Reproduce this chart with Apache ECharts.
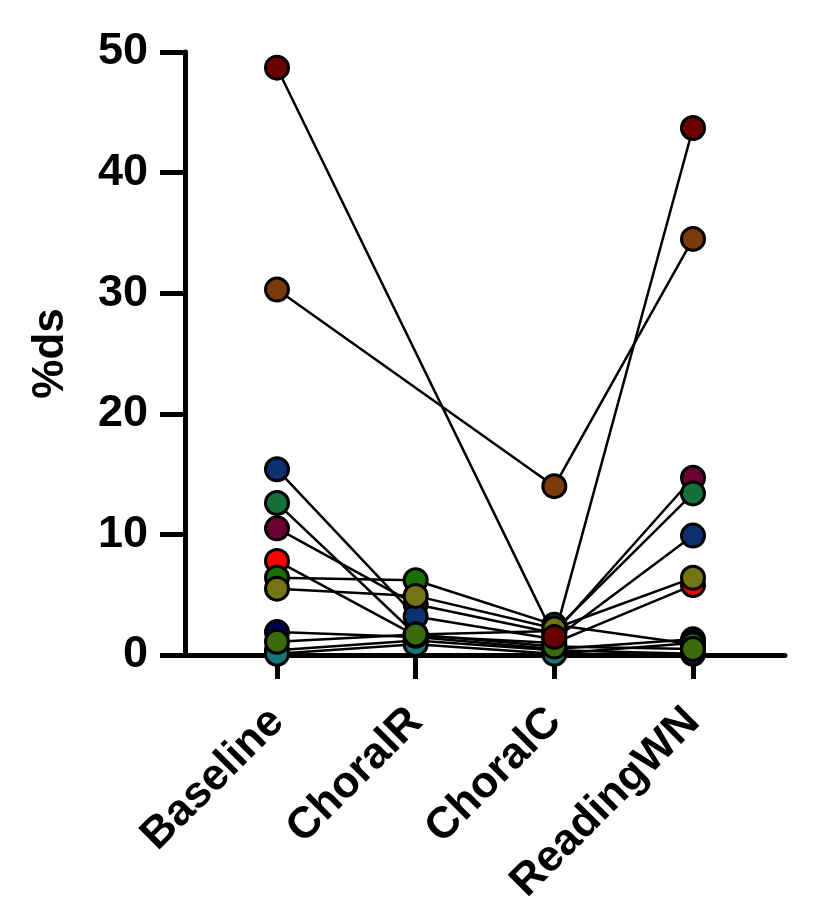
<!DOCTYPE html>
<html>
<head>
<meta charset="utf-8">
<script src="https://cdn.jsdelivr.net/npm/echarts@6/dist/echarts.min.js"></script>
<style>
  html, body { margin: 0; padding: 0; background: #fff; }
  #chart { width: 817px; height: 913px; }
</style>
</head>
<body>
<div id="chart"></div>
<script>
// categories along the x axis
var categories = ["Baseline", "ChoralR", "ChoralC", "ReadingWN"];

var sDarkRed   = [48.7, null, 1.5, 43.7];
var sBrown     = [30.3, null, 14.0, 34.5];
var sPurple    = [0.4, 1.2, 0.4, 0.1];
var sNavy      = [1.9, 1.5, 0.5, 1.3];
var sTeal      = [0.1, 0.9, 0.1, 1.0];
var sRed       = [7.8, 1.6, 1.0, 5.8];
var sGreen     = [6.4, 6.2, 2.5, 0.9];
var sMaroon    = [10.5, 4.2, 1.8, 14.7];
var sBlue      = [15.4, 3.2, 1.3, 9.9];
var sTealGreen = [12.6, 1.7, 2.0, 13.4];
var sOlive     = [5.5, 4.9, 2.2, 6.4];
var sLeaf      = [1.1, 1.7, 0.7, 0.5];

var yTicks = [0, 10, 20, 30, 40, 50];

var subjects = [
    { data: sPurple, color: "#300050" },
    { data: sNavy, color: "#000050" },
    { data: sTeal, color: "#1a7476" },
    { data: sRed, color: "#ff0000" },
    { data: sGreen, color: "#187000" },
    { data: sMaroon, color: "#6a0035" },
    { data: sBlue, color: "#0d3070" },
    { data: sTealGreen, color: "#17703a" },
    { data: sOlive, color: "#747414" },
    { data: sLeaf, color: "#3a6a0a" },
    { data: sBrown, color: "#7a3a0a" },
    { data: sDarkRed, color: "#6b0000" }
];

var font = "Liberation Sans, Arial, sans-serif";
var gridTop = 52, gridBottom = 258;

var series = [];
for (var i = 0; i < subjects.length; i++) {
    series.push({
        type: "line",
        xAxisIndex: 1,
        yAxisIndex: 1,
        data: subjects[i].data,
        connectNulls: true,
        clip: false,
        symbol: "circle",
        symbolSize: 23,
        lineStyle: { color: "#000", width: 2.5 },
        itemStyle: { color: subjects[i].color, borderColor: "#000", borderWidth: 3 },
        emphasis: { disabled: true },
        animation: false
    });
}

var myChart = echarts.init(document.getElementById("chart"));
myChart.setOption({
    animation: false,
    grid: [
        { left: 185, right: 32, top: gridTop, bottom: gridBottom },
        { left: 277, right: 124, top: gridTop, bottom: gridBottom }
    ],
    xAxis: [
        {
            gridIndex: 0, type: "value", min: 0, max: 1,
            axisLine: { show: true, lineStyle: { color: "#000", width: 5 } },
            axisTick: { show: false }, axisLabel: { show: false }, splitLine: { show: false }
        },
        {
            gridIndex: 1, type: "category", data: categories, boundaryGap: false,
            axisLine: { show: false },
            axisTick: { show: true, inside: false, length: 24, lineStyle: { color: "#000", width: 5 } },
            axisLabel: {
                rotate: 45, margin: 60, color: "#000",
                fontFamily: font, fontWeight: "bold", fontSize: 44
            },
            splitLine: { show: false }
        }
    ],
    yAxis: [
        {
            gridIndex: 0, type: "value", min: yTicks[0], max: yTicks[yTicks.length - 1], interval: 10,
            name: "%ds", nameLocation: "middle", nameGap: 112, nameRotate: 90,
            nameTextStyle: { color: "#000", fontFamily: font, fontWeight: "bold", fontSize: 44 },
            axisLine: { show: true, lineStyle: { color: "#000", width: 5 } },
            axisTick: { show: true, inside: false, length: 25, lineStyle: { color: "#000", width: 5 } },
            axisLabel: { margin: 37, color: "#000", fontFamily: font, fontWeight: "bold", fontSize: 45 },
            splitLine: { show: false }
        },
        {
            gridIndex: 1, type: "value", min: 0, max: 50,
            show: false, splitLine: { show: false }
        }
    ],
    series: series
});
</script>
</body>
</html>
